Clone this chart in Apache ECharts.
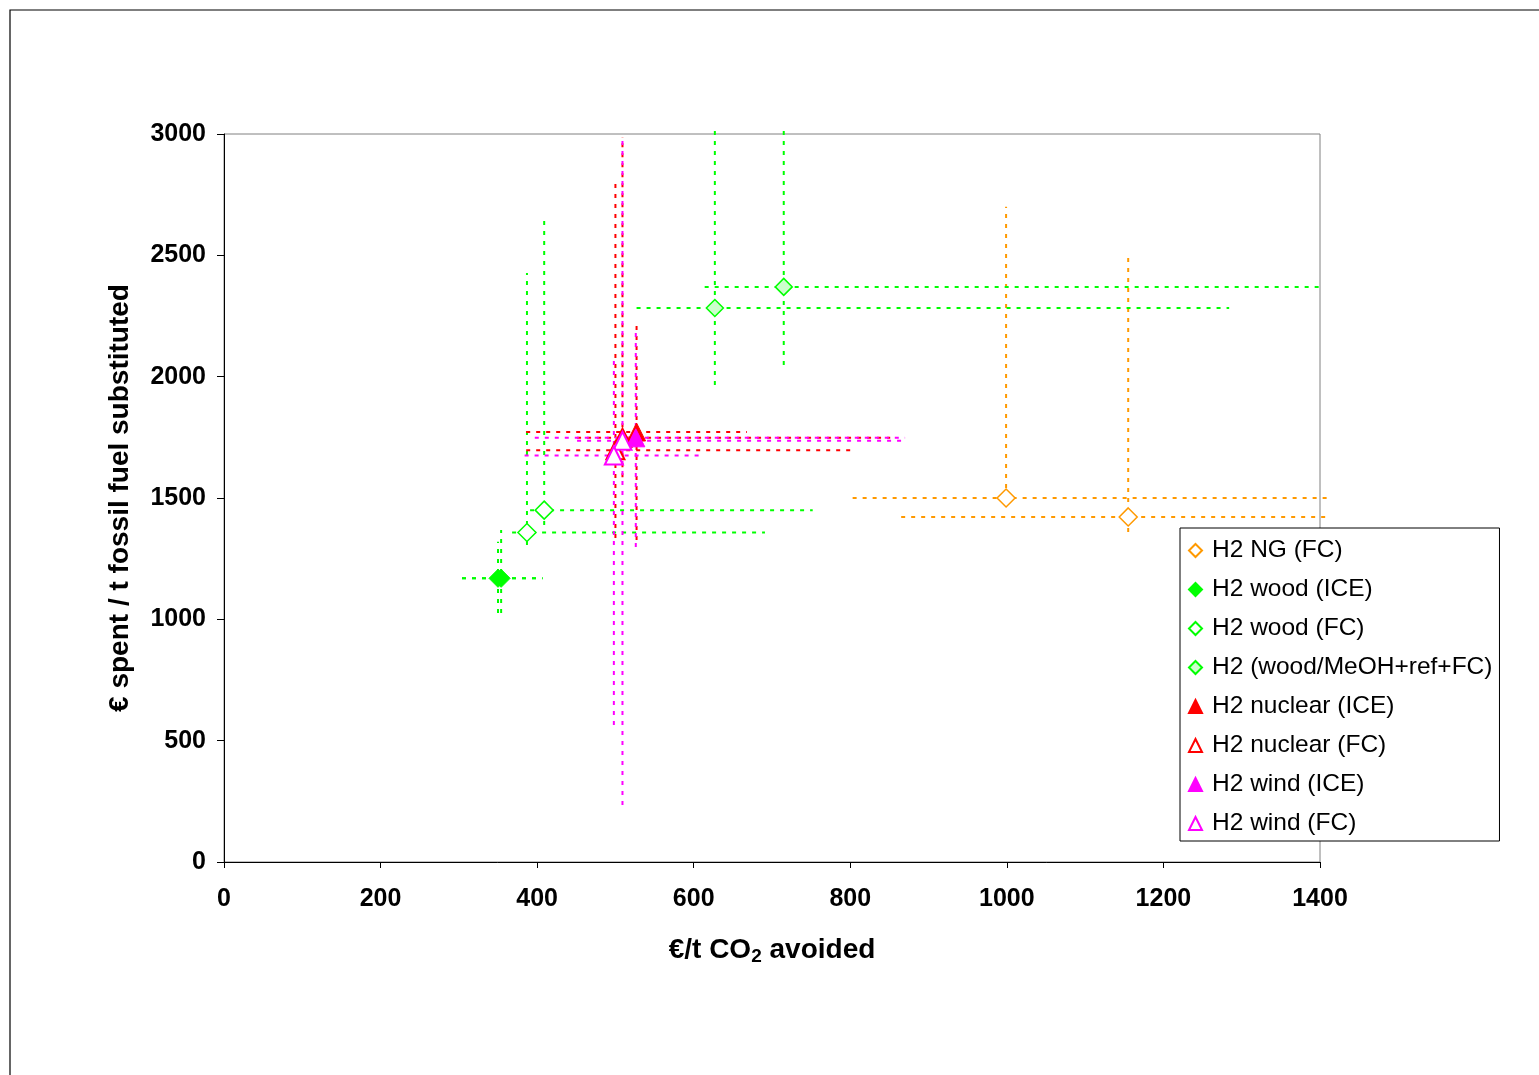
<!DOCTYPE html>
<html>
<head>
<meta charset="utf-8">
<script src="https://cdn.jsdelivr.net/npm/echarts@6/dist/echarts.min.js"></script>
<style>
  html, body { margin: 0; padding: 0; background: #fff; }
  #chart { width: 1539px; height: 1075px; }
</style>
</head>
<body>
<div id="chart"></div>
<script>
// Each point: [x, y, xMin, xMax, yMin, yMax]  (x: €/t CO2 avoided, y: € spent / t fossil fuel substituted)
const h2NgFC      = [[999, 1500, 803, 1411, 1500, 2700], [1155, 1422, 865, 1414, 1360, 2493]];
const h2WoodICE   = [[350, 1169, 304, 407, 1026, 1320], [354, 1169, 304, 407, 1026, 1368]];
const h2WoodFC    = [[387, 1358, 368, 691, 1306, 2427], [409, 1450, 391, 752, 1389, 2645]];
const h2MeohFC    = [[627, 2283, 527, 1284, 1966, 3037], [715, 2370, 614, 1400, 2048, 3037]];
const h2NuclearICE= [[527, 1772, 386, 668, 1327, 2227]];
const h2NuclearFC = [[509, 1748, 451, 851, 1586, 2988], [500, 1697, 386, 803, 1335, 2810]];
const h2WindICE   = [[526, 1748, 397, 870, 1298, 2200]];
const h2WindFC    = [[509, 1736, 451, 867, 235, 2988], [498, 1675, 384, 612, 565, 2081]];

const seriesNames = ['H2 NG (FC)', 'H2 wood (ICE)', 'H2 wood (FC)', 'H2 (wood/MeOH+ref+FC)',
                     'H2 nuclear (ICE)', 'H2 nuclear (FC)', 'H2 wind (ICE)', 'H2 wind (FC)'];
const xTicks = { min: 0, max: 1400, interval: 200 };
const yTicks = { min: 0, max: 3000, interval: 500 };

const FONT = "'Liberation Sans', Arial, sans-serif";
const ORANGE = '#FF9900', GREEN = '#00FF00', RED = '#FF0000', MAGENTA = '#FF00FF';

const groups = [
  { name: seriesNames[0], data: h2NgFC,       color: ORANGE,  symbol: 'diamond',  fill: '#FFFFFF', size: 18, bw: 1.5 },
  { name: seriesNames[1], data: h2WoodICE,    color: GREEN,   symbol: 'diamond',  fill: GREEN,     size: 18, bw: 1 },
  { name: seriesNames[2], data: h2WoodFC,     color: GREEN,   symbol: 'diamond',  fill: '#FFFFFF', size: 18, bw: 1.5 },
  { name: seriesNames[3], data: h2MeohFC,     color: GREEN,   symbol: 'diamond',  fill: '#CCFFCC', size: 17, bw: 1.5 },
  { name: seriesNames[4], data: h2NuclearICE, color: RED,     symbol: 'triangle', fill: RED,       size: 18, bw: 1 },
  { name: seriesNames[5], data: h2NuclearFC,  color: RED,     symbol: 'triangle', fill: '#FFFFFF', size: 18, bw: 2 },
  { name: seriesNames[6], data: h2WindICE,    color: MAGENTA, symbol: 'triangle', fill: MAGENTA,   size: 18, bw: 1 },
  { name: seriesNames[7], data: h2WindFC,     color: MAGENTA, symbol: 'triangle', fill: '#FFFFFF', size: 18, bw: 2 }
];

function errorBars(color) {
  return function (params, api) {
    const x = api.value(0), y = api.value(1);
    const pL = api.coord([api.value(2), y]), pR = api.coord([api.value(3), y]);
    const pB = api.coord([x, api.value(4)]), pT = api.coord([x, api.value(5)]);
    const style = { stroke: color, lineWidth: 2, lineDash: [4, 6], fill: null };
    return {
      type: 'group',
      children: [
        { type: 'line', shape: { x1: pL[0], y1: pL[1], x2: pR[0], y2: pR[1] }, style: style },
        { type: 'line', shape: { x1: pB[0], y1: pB[1], x2: pT[0], y2: pT[1] }, style: style }
      ]
    };
  };
}

const series = [];
groups.forEach(function (g, i) {
  series.push({
    name: 'err' + i,
    type: 'custom',
    renderItem: errorBars(g.color),
    data: g.data,
    encode: { x: 0, y: 1 },
    clip: false,
    z: 1,
    silent: true
  });
});
groups.forEach(function (g) {
  series.push({
    name: g.name,
    type: 'scatter',
    symbol: g.symbol,
    symbolSize: g.size,
    symbolKeepAspect: true,
    data: g.data.map(function (d) { return [d[0], d[1]]; }),
    itemStyle: { color: g.fill, borderColor: g.color, borderWidth: g.bw, opacity: 1 },
    z: 3,
    silent: true
  });
});

const plain = function (v) { return String(v); };

const chart = echarts.init(document.getElementById('chart'), null, { renderer: 'canvas' });
chart.setOption({
  animation: false,
  backgroundColor: '#FFFFFF',
  textStyle: { fontFamily: FONT },
  graphic: [
    { type: 'rect', shape: { x: 10, y: 10, width: 1700, height: 1300 },
      style: { fill: null, stroke: '#000', lineWidth: 1.2 }, z: 0 }
  ],
  grid: { left: 224, right: 219, top: 134, bottom: 213, show: true,
          borderColor: '#808080', borderWidth: 1, backgroundColor: 'transparent' },
  legend: {
    data: seriesNames,
    orient: 'vertical',
    left: 1180, top: 528,
    backgroundColor: '#FFFFFF',
    borderColor: '#000', borderWidth: 1, borderRadius: 0,
    padding: [10, 7, 5, 8],
    itemWidth: 13, itemHeight: 13,
    itemGap: 14,
    symbolKeepAspect: true,
    selectedMode: false,
    textStyle: { fontFamily: FONT, fontSize: 24.5, color: '#000', lineHeight: 24, padding: [0, 0, 0, 5] }
  },
  xAxis: {
    type: 'value',
    min: xTicks.min, max: xTicks.max, interval: xTicks.interval,
    splitLine: { show: false },
    axisLine: { show: true, onZero: false, lineStyle: { color: '#000', width: 1 } },
    axisTick: { show: true, inside: false, length: 6, lineStyle: { color: '#000' } },
    axisLabel: { margin: 25, fontFamily: FONT, fontSize: 25, fontWeight: 'bold', color: '#000', formatter: plain },
    name: '{a|€/t CO}{s|2}{a| avoided}',
    nameLocation: 'middle',
    nameGap: 73,
    nameTextStyle: {
      rich: {
        a: { fontFamily: FONT, fontSize: 28, fontWeight: 'bold', color: '#000' },
        s: { fontFamily: FONT, fontSize: 19, fontWeight: 'bold', color: '#000', padding: [12, 0, 0, 0] }
      }
    }
  },
  yAxis: {
    type: 'value',
    min: yTicks.min, max: yTicks.max, interval: yTicks.interval,
    splitLine: { show: false },
    axisLine: { show: true, onZero: false, lineStyle: { color: '#000', width: 1 } },
    axisTick: { show: true, inside: false, length: 7, lineStyle: { color: '#000' } },
    axisLabel: { margin: 18, fontFamily: FONT, fontSize: 25, fontWeight: 'bold', color: '#000', formatter: plain },
    name: '€ spent / t fossil fuel substituted',
    nameLocation: 'middle',
    nameGap: 90,
    nameTextStyle: { fontFamily: FONT, fontSize: 28, fontWeight: 'bold', color: '#000' }
  },
  series: series
});
</script>
</body>
</html>
